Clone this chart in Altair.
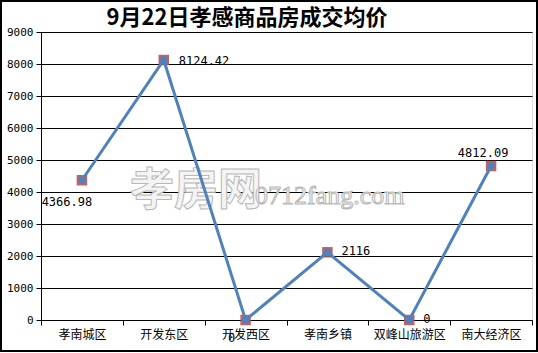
import altair as alt
import pandas as pd

categories = ["孝南城区", "开发东区", "开发西区", "孝南乡镇", "双峰山旅游区", "南大经济区"]
prices = [4366.98, 8124.42, 0, 2116, 0, 4812.09]
labels = ["4366.98", "8124.42", "0", "2116", "0", "4812.09"]
y_ticks = [0, 1000, 2000, 3000, 4000, 5000, 6000, 7000, 8000, 9000]
title_text = "9月22日孝感商品房成交均价"

df = pd.DataFrame({"cat": categories, "price": prices, "label": labels})

W, H = 491, 288
num_font = "DejaVu Sans Mono"
cjk_font = "Noto Sans CJK SC"

x_enc = alt.X("cat:N", sort=categories,
              scale=alt.Scale(type="band", paddingInner=0, paddingOuter=0),
              axis=alt.Axis(title=None, labelAngle=0, tickBand="extent", grid=False,
                            domainColor="black", tickColor="black", tickSize=5,
                            labelFont=cjk_font, labelFontSize=12, labelColor="black",
                            labelPadding=4, domainWidth=1))
y_enc = alt.Y("price:Q", scale=alt.Scale(domain=[0, 9000], nice=False),
              axis=alt.Axis(title=None, values=y_ticks, format="d", grid=True,
                            gridColor="black", gridOpacity=1, gridWidth=1,
                            domainColor="black", tickColor="black", tickSize=5,
                            labelFont=num_font, labelFontSize=11, labelColor="black",
                            labelPadding=3))

base = alt.Chart(df)

markers = base.mark_square(size=110, color="#C0504D", opacity=0.9).encode(x=x_enc, y=y_enc)
line = base.mark_line(color="#4F81BD", strokeWidth=3).encode(x=x_enc, y=y_enc)
dots = base.mark_circle(size=55, color="#4F81BD", opacity=1).encode(x=x_enc, y=y_enc)

def lab(idx, align, dx, dy):
    return base.transform_filter(alt.datum.cat == categories[idx]).mark_text(
        align=align, baseline="middle", dx=dx, dy=dy, font=num_font, fontSize=12,
        color="black").encode(x=x_enc, y=y_enc, text="label:N")

labs = [lab(0, "center", -15, 22), lab(1, "left", 15, 1), lab(2, "center", -14, 18),
        lab(3, "left", 14, -1), lab(4, "left", 14, -1), lab(5, "center", -8, -13)]

wm1 = alt.Chart(pd.DataFrame({"t": ["孝房网"]})).mark_text(
    align="left", baseline="middle", font=cjk_font, fontSize=44, fontWeight="bold",
    fill="#f4f4f4", stroke="#b8b8b8", strokeWidth=1).encode(
    x=alt.value(89), y=alt.value(160), text="t:N")
wm2 = alt.Chart(pd.DataFrame({"t": ["0712fang.com"]})).mark_text(
    align="left", baseline="middle", font="Liberation Serif", fontSize=26,
    fill="#f4f4f4", stroke="#b8b8b8", strokeWidth=1).encode(
    x=alt.value(214), y=alt.value(164), text="t:N")

title = alt.Chart(pd.DataFrame({"t": [title_text]})).mark_text(
    align="center", baseline="middle", font=cjk_font, fontSize=22, fontWeight="bold",
    color="black").encode(x=alt.value(206), y=alt.value(-14), text="t:N")

border = alt.Chart(pd.DataFrame({"a": [0]})).mark_rect(
    fill=None, stroke="black", strokeWidth=2, clip=False).encode(
    x=alt.value(-40), x2=alt.value(W + 5), y=alt.value(-31), y2=alt.value(H + 31))

chart = alt.layer(wm1, wm2, markers, line, dots, *labs, title, border).properties(
    width=W, height=H, autosize=alt.AutoSizeParams(type="none"),
    padding={"left": 41, "top": 32, "right": 6, "bottom": 33},
).configure_view(stroke=None).configure(background="white")

chart.save("out.html", embed_options={"renderer": "svg", "actions": False})
